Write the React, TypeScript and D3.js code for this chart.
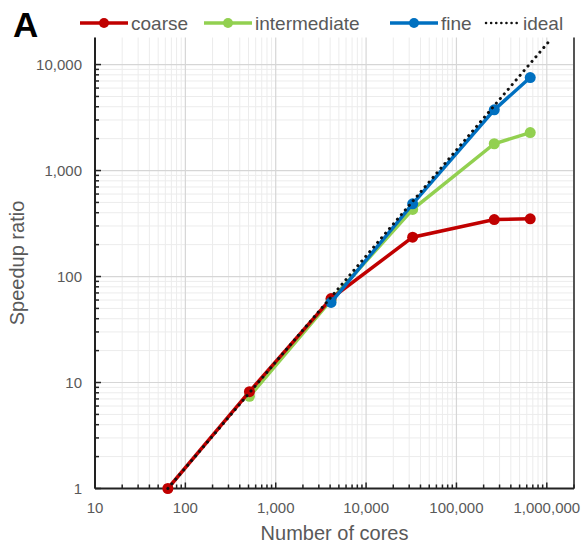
import React from "react";
import * as d3 from "d3";

// cores used for each run size
const coarseCores = [64, 512, 4096, 32768, 262144, 655360];
const coarseSpeedup = [1, 8.2, 62, 235, 345, 350];

const interCores = [512, 4096, 32768, 262144, 655360];
const interSpeedup = [7.4, 60, 430, 1790, 2280];

const fineCores = [4096, 32768, 262144, 655360];
const fineSpeedup = [57, 485, 3740, 7540];

const idealCores = [64, 1048576];
const idealSpeedup = [1, 16384];

const xTickValues = [10, 100, 1000, 10000, 100000, 1000000];
const yTickValues = [1, 10, 100, 1000, 10000];

const W = 587;
const H = 549;
const margin = { top: 37.5, right: 13, bottom: 60.5, left: 95 };

const grey = "#595959";
const font = "'Liberation Sans', Arial, sans-serif";

const series = [
  { name: "intermediate", color: "#92d050", cores: interCores, values: interSpeedup },
  { name: "coarse", color: "#c00000", cores: coarseCores, values: coarseSpeedup },
  { name: "fine", color: "#0070c0", cores: fineCores, values: fineSpeedup },
];

const legendItems = [
  { name: "coarse", color: "#c00000", x: 80, dotted: false },
  { name: "intermediate", color: "#92d050", x: 204, dotted: false },
  { name: "fine", color: "#0070c0", x: 390, dotted: false },
  { name: "ideal", color: "#111", x: 486, dotted: true },
];

const minorTicks = (lo: number, hi: number) => {
  const out: number[] = [];
  for (let d = lo; d < hi; d *= 10) {
    for (let k = 2; k <= 9; k++) if (d * k <= hi) out.push(d * k);
  }
  return out;
};

export default function App() {
  const x = d3.scaleLog().domain([10, 2000000]).range([margin.left, W - margin.right]);
  const y = d3.scaleLog().domain([1, 18000]).range([H - margin.bottom, margin.top]);
  const fmt = d3.format(",");

  const xMinor = minorTicks(10, 2000000);
  const yMinor = minorTicks(1, 18000);

  const line = d3
    .line<[number, number]>()
    .x((d) => x(d[0]))
    .y((d) => y(d[1]));

  const x0 = margin.left;
  const x1 = W - margin.right;
  const y0 = H - margin.bottom;
  const y1 = margin.top;

  return (
    <svg
      width={W}
      height={H}
      style={{ position: "absolute", left: 0, top: 0, background: "#fff" }}
      fontFamily={font}
    >
      {/* grid */}
      {xMinor.map((v) => (
        <line key={"gx" + v} x1={x(v)} x2={x(v)} y1={y0} y2={y1} stroke="#ececec" strokeWidth={1} />
      ))}
      {yMinor.map((v) => (
        <line key={"gy" + v} x1={x0} x2={x1} y1={y(v)} y2={y(v)} stroke="#ececec" strokeWidth={1} />
      ))}
      {xTickValues.map((v) => (
        <line key={"GX" + v} x1={x(v)} x2={x(v)} y1={y0} y2={y1} stroke="#d6d6d6" strokeWidth={1.2} />
      ))}
      {yTickValues.map((v) => (
        <line key={"GY" + v} x1={x0} x2={x1} y1={y(v)} y2={y(v)} stroke="#d6d6d6" strokeWidth={1.2} />
      ))}

      {/* right border */}
      <line x1={x1} x2={x1} y1={y1} y2={y0} stroke="#555" strokeWidth={2} />

      {/* axes */}
      <line x1={x0} x2={x1} y1={y0} y2={y0} stroke="#222" strokeWidth={2} />
      <line x1={x0} x2={x0} y1={y1} y2={y0} stroke="#222" strokeWidth={2} />
      {xMinor.map((v) => (
        <line key={"tx" + v} x1={x(v)} x2={x(v)} y1={y0} y2={y0 - 4} stroke="#222" strokeWidth={1.5} />
      ))}
      {xTickValues.map((v) => (
        <line key={"TX" + v} x1={x(v)} x2={x(v)} y1={y0} y2={y0 - 6} stroke="#222" strokeWidth={1.5} />
      ))}
      {yMinor.map((v) => (
        <line key={"ty" + v} x1={x0} x2={x0 + 4} y1={y(v)} y2={y(v)} stroke="#222" strokeWidth={1.5} />
      ))}
      {yTickValues.map((v) => (
        <line key={"TY" + v} x1={x0} x2={x0 + 6} y1={y(v)} y2={y(v)} stroke="#222" strokeWidth={1.5} />
      ))}

      {xTickValues.map((v) => (
        <text key={"lx" + v} x={x(v)} y={y0 + 24} textAnchor="middle" fontSize={15} fill={grey}>
          {fmt(v)}
        </text>
      ))}
      {yTickValues.map((v) => (
        <text key={"ly" + v} x={x0 - 13} y={y(v) + 5} textAnchor="end" fontSize={15} fill={grey}>
          {fmt(v)}
        </text>
      ))}

      <text x={(x0 + x1) / 2} y={540} textAnchor="middle" fontSize={20} fill={grey}>
        Number of cores
      </text>
      <text
        transform={`translate(24, ${(y0 + y1) / 2}) rotate(-90)`}
        textAnchor="middle"
        fontSize={20}
        fill={grey}
      >
        Speedup ratio
      </text>

      {/* series */}
      {series.map((s) => (
        <g key={s.name}>
          <path
            d={line(s.cores.map((c, i) => [c, s.values[i]] as [number, number])) || ""}
            fill="none"
            stroke={s.color}
            strokeWidth={3.5}
          />
          {s.cores.map((c, i) => (
            <circle key={c} cx={x(c)} cy={y(s.values[i])} r={5.5} fill={s.color} />
          ))}
        </g>
      ))}
      <path
        d={line(idealCores.map((c, i) => [c, idealSpeedup[i]] as [number, number])) || ""}
        fill="none"
        stroke="#111"
        strokeWidth={3}
        strokeDasharray="0.1 6"
        strokeLinecap="round"
      />

      {/* panel letter */}
      <text x={13} y={37} fontSize={35} fontWeight="bold" fill="#000">
        A
      </text>

      {/* legend */}
      {legendItems.map((l) => (
        <g key={l.name}>
          {l.dotted ? (
            <line
              x1={l.x}
              x2={l.x + 33}
              y1={23}
              y2={23}
              stroke={l.color}
              strokeWidth={2.5}
              strokeDasharray="0.1 5"
              strokeLinecap="round"
            />
          ) : (
            <>
              <line x1={l.x} x2={l.x + 48} y1={23} y2={23} stroke={l.color} strokeWidth={3.5} />
              <circle cx={l.x + 24} cy={23} r={5} fill={l.color} />
            </>
          )}
          <text x={l.x + (l.dotted ? 37 : 51)} y={29.5} fontSize={19} fill={grey}>
            {l.name}
          </text>
        </g>
      ))}
    </svg>
  );
}
